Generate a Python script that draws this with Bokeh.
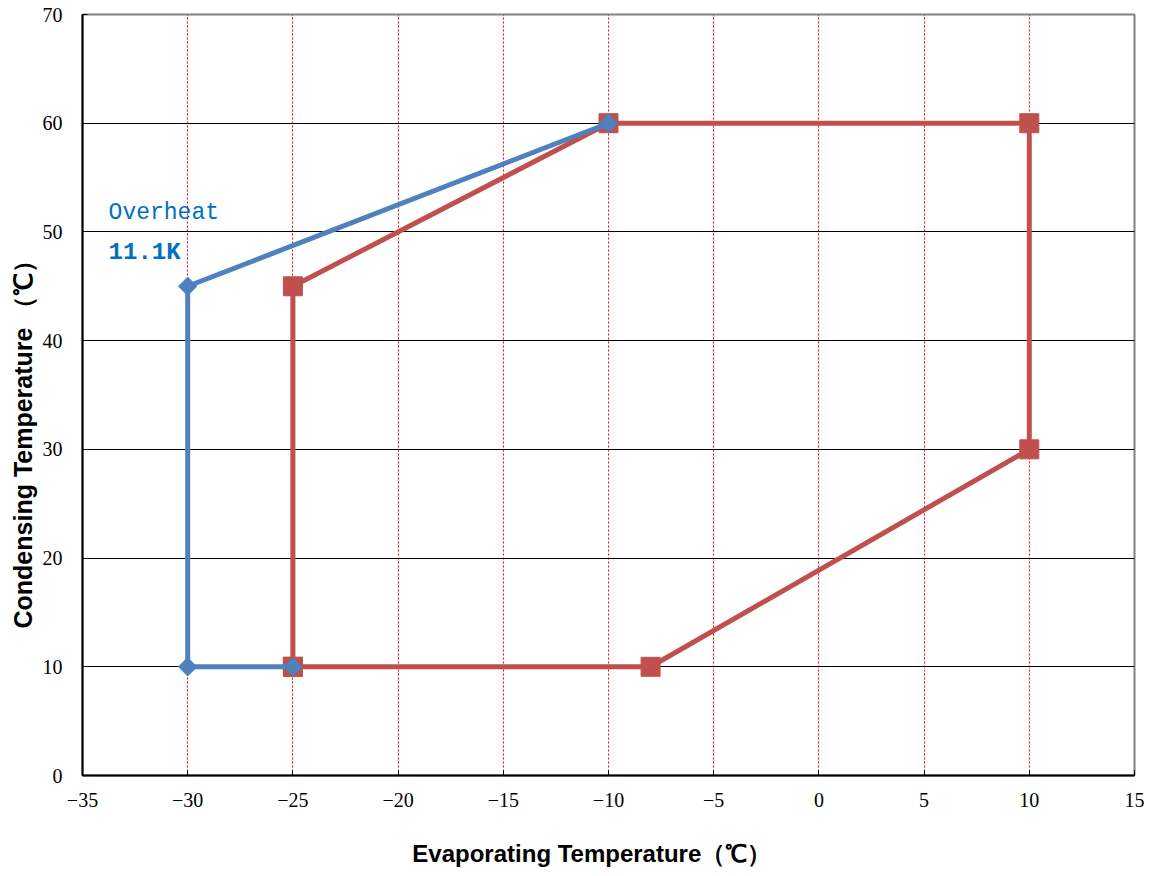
import math
from bokeh.plotting import figure
from bokeh.models import Label, FixedTicker, Range1d, Title
from bokeh.embed import file_html
from bokeh.resources import INLINE

# Data
blue_x = [-25, -30, -30, -10]
blue_y = [10, 10, 45, 60]
red_x = [-25, -25, -10, 10, 10, -8, -25]
red_y = [10, 45, 60, 60, 30, 10, 10]
x_ticks = [-35, -30, -25, -20, -15, -10, -5, 0, 5, 10, 15]
y_ticks = [0, 10, 20, 30, 40, 50, 60, 70]

BLUE = "#4F81BD"
RED = "#C0504D"

p = figure(width=1144, height=876, output_backend="svg", toolbar_location=None,
           x_range=Range1d(-35, 15), y_range=Range1d(0, 70),
           min_border_left=82, min_border_right=10, min_border_top=14, min_border_bottom=101)

p.outline_line_color = "#808080"
p.outline_line_width = 2

for ax in (p.xaxis[0], p.yaxis[0]):
    ax.axis_line_color = "black"
    ax.axis_line_width = 2
    ax.major_tick_in = 5
    ax.major_tick_out = 0
    ax.minor_tick_line_color = None
    ax.major_tick_line_color = "black"
    ax.major_label_text_font = "Liberation Serif"
    ax.major_label_text_font_size = "20px"
    ax.major_label_text_color = "black"

p.xaxis[0].ticker = FixedTicker(ticks=x_ticks)
p.yaxis[0].ticker = FixedTicker(ticks=y_ticks)
p.xaxis[0].major_label_standoff = 17
p.yaxis[0].major_label_standoff = 20
p.xaxis[0].major_label_overrides = {t: ("\u2212" + str(abs(t)) if t < 0 else str(t)) for t in x_ticks}

# x-axis title (trailing no-break spaces shift the visible text left of centre)
p.xaxis[0].axis_label = "Evaporating Temperature（℃）" + "\u00a0" * 5
p.xaxis[0].axis_label_text_font = "Liberation Sans"
p.xaxis[0].axis_label_text_font_size = "24px"
p.xaxis[0].axis_label_text_font_style = "bold"
p.xaxis[0].axis_label_text_color = "black"
p.xaxis[0].axis_label_standoff = 30

p.xgrid.grid_line_color = "#FF0000"
p.xgrid.grid_line_dash = "2 2"
p.xgrid.grid_line_width = 1
p.ygrid.grid_line_color = "black"
p.ygrid.grid_line_width = 1

# Red series
p.line(red_x, red_y, line_color=RED, line_width=5)
p.scatter(red_x, red_y, marker="square", size=19, fill_color=RED, line_color=RED)
# Blue series
p.line(blue_x, blue_y, line_color=BLUE, line_width=5)
p.scatter(blue_x, blue_y, marker="square", size=13, angle=math.pi / 4,
          fill_color=BLUE, line_color=BLUE)

# Annotations
p.add_layout(Label(x=-33.76, y=51.7, text="Overheat", text_font="Liberation Mono",
                   text_font_size="23px", text_color="#0070C0", text_baseline="middle"))
p.add_layout(Label(x=-33.76, y=48.1, text="11.1K", text_font="Liberation Mono",
                   text_font_size="24px", text_font_style="bold", text_color="#0070C0",
                   text_baseline="middle"))

# y-axis title
p.add_layout(Title(text="Condensing Temperature （℃）", align="left", offset=147,
                   text_font="Liberation Sans", text_font_size="25px", text_font_style="bold",
                   text_color="black", standoff=5), "left")

open("out.html", "w").write(file_html(p, INLINE))
